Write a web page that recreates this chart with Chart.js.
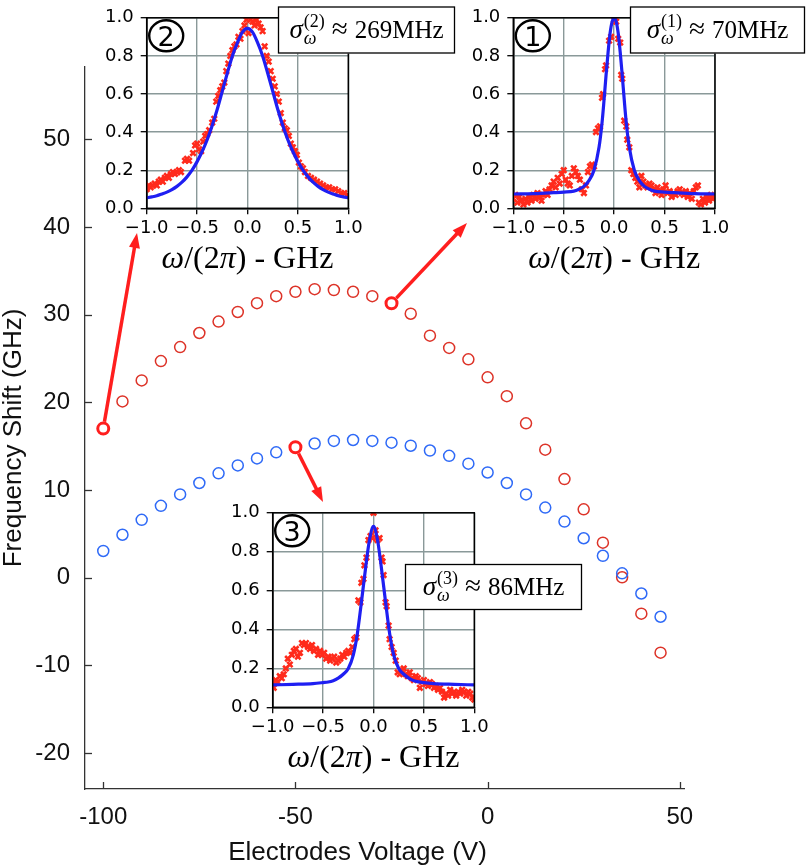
<!DOCTYPE html>
<html><head><meta charset="utf-8">
<script src="https://cdn.jsdelivr.net/npm/chart.js@4.4.0/dist/chart.umd.min.js"></script>
<style>
html,body{margin:0;padding:0;background:#fff;}
#wrap{position:relative;width:808px;height:866px;overflow:hidden;background:#fff;}
canvas{position:absolute;}
</style></head>
<body><div id="wrap">
<canvas id="main" width="808" height="866" style="left:0;top:0;width:808px;height:866px"></canvas>
<canvas id="in2"></canvas>
<canvas id="in1"></canvas>
<canvas id="in3"></canvas>
</div>
<script>
// ---------------- main data ----------------
const voltage = [-100,-95,-90,-85,-80,-75,-70,-65,-60,-55,-50,-45,-40,-35,-30,-25,-20,-15,-10,-5,0,5,10,15,20,25,30,35,40,45];
const redShift = [17.0,20.1,22.5,24.7,26.3,27.9,29.2,30.3,31.3,32.1,32.6,32.9,32.8,32.6,32.1,31.3,30.1,27.6,26.2,24.9,22.85,20.7,17.6,14.6,11.25,7.8,4.0,0.05,-4.1,-8.55];
const blueShift = [3.05,4.9,6.6,8.2,9.5,10.8,11.9,12.8,13.6,14.3,14.87,15.3,15.6,15.7,15.6,15.4,15.05,14.5,13.9,13.0,12.0,10.8,9.5,8.0,6.4,4.5,2.5,0.5,-1.8,-4.45];
const xTicks = [-100,-50,0,50];
const yTicks = [-20,-10,0,10,20,30,40,50];
// highlighted measurements (series, index)
const highlightIdx = [['red',0],['red',15],['blue',10]];

// ---------------- inset data ----------------
const insetXTicks = [-1,-0.5,0,0.5,1];
const insetYTicks = [0,0.2,0.4,0.6,0.8,1.0];

// inset (2): sigma ~ 269 MHz
const in2X = [-1.00,-0.98,-0.96,-0.94,-0.92,-0.90,-0.88,-0.86,-0.84,-0.82,-0.80,-0.78,-0.76,-0.74,-0.72,-0.70,-0.68,-0.66,-0.62,-0.60,-0.58,-0.54,-0.52,-0.50,-0.48,-0.46,-0.44,-0.42,-0.40,-0.38,-0.35,-0.33,-0.31,-0.29,-0.27,-0.25,-0.23,-0.21,-0.19,-0.17,-0.15,-0.13,-0.11,-0.09,-0.07,-0.05,-0.03,-0.01,0.01,0.03,0.05,0.07,0.09,0.11,0.13,0.15,0.17,0.19,0.21,0.23,0.25,0.27,0.29,0.31,0.33,0.35,0.37,0.39,0.41,0.43,0.45,0.47,0.49,0.51,0.53,0.55,0.57,0.60,0.63,0.66,0.69,0.72,0.75,0.78,0.81,0.84,0.87,0.90,0.93,0.96,0.99];
const in2Y = [0.10,0.12,0.11,0.12,0.13,0.12,0.14,0.15,0.14,0.16,0.17,0.16,0.18,0.19,0.18,0.19,0.20,0.19,0.25,0.26,0.25,0.29,0.33,0.34,0.31,0.30,0.35,0.38,0.39,0.41,0.45,0.47,0.56,0.59,0.62,0.64,0.66,0.72,0.76,0.80,0.83,0.85,0.86,0.90,0.89,0.93,0.96,0.99,0.92,0.99,0.98,0.96,0.99,0.97,0.95,0.93,0.85,0.80,0.77,0.72,0.68,0.64,0.60,0.56,0.50,0.45,0.42,0.41,0.38,0.34,0.32,0.30,0.28,0.24,0.22,0.21,0.19,0.17,0.16,0.15,0.14,0.13,0.12,0.11,0.11,0.10,0.10,0.09,0.08,0.08,0.07];
const fit2X = [-1.00,-0.95,-0.90,-0.85,-0.80,-0.75,-0.70,-0.65,-0.60,-0.55,-0.50,-0.45,-0.40,-0.35,-0.30,-0.25,-0.20,-0.15,-0.10,-0.05,0,0.05,0.10,0.15,0.20,0.25,0.30,0.35,0.40,0.45,0.50,0.55,0.60,0.65,0.70,0.75,0.80,0.85,0.90,0.95,1.00];
const fit2Y = [0.055,0.060,0.066,0.075,0.085,0.098,0.115,0.137,0.165,0.200,0.245,0.298,0.360,0.435,0.520,0.615,0.710,0.800,0.870,0.925,0.945,0.925,0.870,0.800,0.710,0.615,0.520,0.435,0.360,0.298,0.245,0.200,0.165,0.137,0.115,0.098,0.085,0.075,0.066,0.060,0.055];

// inset (1): sigma ~ 70 MHz
const in1X = [-1.00,-0.98,-0.96,-0.94,-0.92,-0.90,-0.88,-0.86,-0.84,-0.82,-0.80,-0.78,-0.76,-0.74,-0.72,-0.70,-0.68,-0.66,-0.64,-0.62,-0.60,-0.58,-0.56,-0.54,-0.52,-0.50,-0.48,-0.46,-0.44,-0.42,-0.40,-0.38,-0.36,-0.34,-0.32,-0.30,-0.28,-0.26,-0.24,-0.22,-0.20,-0.18,-0.16,-0.14,-0.12,-0.11,-0.09,-0.08,-0.05,-0.03,0.00,0.02,0.04,0.06,0.07,0.08,0.10,0.12,0.13,0.15,0.17,0.19,0.21,0.23,0.25,0.27,0.29,0.31,0.33,0.35,0.37,0.39,0.41,0.43,0.45,0.47,0.49,0.51,0.53,0.55,0.57,0.59,0.61,0.63,0.65,0.67,0.69,0.71,0.73,0.75,0.77,0.79,0.81,0.83,0.84,0.86,0.88,0.90,0.92,0.94,0.96,0.98,1.00];
const in1Y = [0.05,0.07,0.03,0.06,0.04,0.02,0.05,0.03,0.06,0.04,0.07,0.05,0.08,0.06,0.04,0.07,0.09,0.07,0.10,0.12,0.14,0.11,0.16,0.13,0.18,0.20,0.15,0.13,0.12,0.17,0.21,0.19,0.17,0.15,0.10,0.08,0.12,0.19,0.22,0.23,0.22,0.40,0.42,0.43,0.58,0.60,0.73,0.75,0.88,0.90,0.99,0.98,0.89,0.87,0.70,0.68,0.46,0.43,0.36,0.32,0.20,0.18,0.16,0.14,0.11,0.17,0.14,0.12,0.11,0.13,0.12,0.10,0.08,0.11,0.09,0.07,0.10,0.12,0.08,0.09,0.06,0.08,0.07,0.09,0.10,0.08,0.07,0.09,0.06,0.08,0.05,0.09,0.11,0.12,0.03,0.02,0.05,0.03,0.06,0.04,0.07,0.05,0.06];
const fit1X = [-1.00,-0.80,-0.60,-0.50,-0.40,-0.35,-0.30,-0.25,-0.20,-0.15,-0.12,-0.10,-0.08,-0.06,-0.04,-0.02,0,0.02,0.04,0.06,0.08,0.10,0.12,0.15,0.20,0.25,0.30,0.35,0.40,0.50,0.60,0.80,1.00];
const fit1Y = [0.075,0.077,0.082,0.085,0.090,0.100,0.115,0.145,0.200,0.320,0.450,0.570,0.700,0.820,0.920,0.980,1.000,0.980,0.920,0.820,0.700,0.570,0.450,0.320,0.200,0.145,0.115,0.100,0.090,0.085,0.082,0.077,0.075];

// inset (3): sigma ~ 86 MHz
const in3X = [-1.00,-0.99,-0.97,-0.95,-0.93,-0.91,-0.89,-0.87,-0.85,-0.83,-0.81,-0.79,-0.77,-0.75,-0.73,-0.71,-0.69,-0.67,-0.65,-0.63,-0.61,-0.59,-0.57,-0.55,-0.53,-0.51,-0.49,-0.47,-0.45,-0.43,-0.41,-0.39,-0.37,-0.35,-0.33,-0.31,-0.29,-0.27,-0.25,-0.23,-0.21,-0.19,-0.17,-0.15,-0.13,-0.12,-0.10,-0.09,-0.07,-0.05,-0.03,-0.01,0.00,0.02,0.04,0.06,0.08,0.09,0.10,0.12,0.13,0.15,0.16,0.18,0.20,0.22,0.24,0.26,0.28,0.30,0.32,0.34,0.36,0.38,0.40,0.42,0.44,0.46,0.48,0.50,0.52,0.54,0.56,0.58,0.60,0.62,0.64,0.66,0.68,0.70,0.72,0.74,0.76,0.78,0.80,0.82,0.84,0.86,0.88,0.90,0.92,0.94,0.96,0.98,1.00];
const in3Y = [0.12,0.10,0.14,0.13,0.16,0.15,0.17,0.20,0.25,0.22,0.27,0.29,0.30,0.26,0.28,0.33,0.32,0.33,0.31,0.30,0.32,0.29,0.30,0.27,0.29,0.27,0.28,0.25,0.26,0.24,0.25,0.26,0.23,0.24,0.25,0.27,0.26,0.28,0.29,0.28,0.31,0.35,0.36,0.55,0.54,0.64,0.66,0.73,0.77,0.86,0.88,0.87,1.00,0.91,0.86,0.87,0.77,0.75,0.68,0.54,0.52,0.42,0.35,0.31,0.28,0.24,0.18,0.17,0.19,0.20,0.17,0.16,0.18,0.15,0.14,0.16,0.15,0.10,0.13,0.14,0.12,0.11,0.13,0.12,0.10,0.11,0.09,0.10,0.08,0.05,0.07,0.06,0.09,0.07,0.08,0.06,0.08,0.07,0.09,0.08,0.06,0.08,0.07,0.05,0.04];
const fit3X = [-1.00,-0.80,-0.60,-0.50,-0.45,-0.40,-0.35,-0.30,-0.25,-0.20,-0.16,-0.12,-0.08,-0.04,0,0.04,0.08,0.12,0.16,0.20,0.25,0.30,0.35,0.40,0.50,0.60,0.80,1.00];
const fit3Y = [0.115,0.118,0.122,0.127,0.130,0.137,0.150,0.170,0.200,0.270,0.380,0.540,0.710,0.860,0.930,0.860,0.710,0.540,0.380,0.270,0.200,0.170,0.150,0.137,0.127,0.122,0.118,0.115];

// ---------------- styling ----------------
const RED = '#dd3328', BLUE = '#2f6af7', HL = '#ff1e1e';
const arrowTips = [[137,233],[467,223],[323,502]];

const highlightPoints = highlightIdx.map(([s,i]) => ({x: voltage[i], y: (s==='red'?redShift:blueShift)[i]}));

const mainPlugin = {
  id:'mainDeco',
  afterDatasetsDraw(chart){
    const {ctx, scales:{x,y}} = chart;
    ctx.save();
    ctx.strokeStyle = HL; ctx.fillStyle = HL; ctx.lineWidth = 3.5; ctx.lineCap='butt';
    highlightPoints.forEach((p,k)=>{
      const sx = x.getPixelForValue(p.x), sy = y.getPixelForValue(p.y);
      const [tx,ty] = arrowTips[k];
      const dx = tx-sx, dy = ty-sy, L = Math.hypot(dx,dy), ux = dx/L, uy = dy/L;
      const head = 15, hw = 5.5;
      const ax = sx+ux*7, ay = sy+uy*7;
      const bx = tx-ux*head, by = ty-uy*head;
      ctx.beginPath(); ctx.moveTo(ax,ay); ctx.lineTo(bx+ux*2,by+uy*2); ctx.stroke();
      ctx.beginPath(); ctx.moveTo(tx,ty); ctx.lineTo(bx-uy*hw, by+ux*hw); ctx.lineTo(bx+uy*hw, by-ux*hw); ctx.closePath(); ctx.fill();
    });
    ctx.restore();
  },
  afterDraw(chart){
    const {ctx, chartArea:a, scales:{x,y}} = chart;
    ctx.save();
    ctx.strokeStyle='#333'; ctx.lineWidth=1.3;
    xTicks.forEach(v=>{const p=Math.round(x.getPixelForValue(v))+0.5; ctx.beginPath(); ctx.moveTo(p,a.bottom); ctx.lineTo(p,a.bottom-7); ctx.stroke();});
    yTicks.forEach(v=>{const p=Math.round(y.getPixelForValue(v))+0.5; ctx.beginPath(); ctx.moveTo(a.left,p); ctx.lineTo(a.left+7,p); ctx.stroke();});
    ctx.fillStyle='#111'; ctx.font='26px "Liberation Sans", Arial, sans-serif';
    ctx.textAlign='center'; ctx.textBaseline='alphabetic';
    ctx.fillText('Electrodes Voltage (V)', 357.5, 860);
    ctx.translate(21, 438); ctx.rotate(-Math.PI/2);
    ctx.fillText('Frequency Shift (GHz)', 0, 0);
    ctx.restore();
  }
};

new Chart(document.getElementById('main'), {
  type:'scatter',
  data:{datasets:[
    {label:'highlight', data: highlightPoints, pointRadius:5.5, pointBorderWidth:3, pointBorderColor:HL, pointBackgroundColor:'#fff', borderColor:HL, backgroundColor:'#fff', order:0},
    {label:'blue mode', data: voltage.map((v,i)=>({x:v,y:blueShift[i]})), pointRadius:5.5, pointBorderWidth:1.5, pointBorderColor:BLUE, pointBackgroundColor:'rgba(0,0,0,0)', borderColor:BLUE, order:1},
    {label:'red mode', data: voltage.map((v,i)=>({x:v,y:redShift[i]})), pointRadius:5.5, pointBorderWidth:1.5, pointBorderColor:RED, pointBackgroundColor:'rgba(0,0,0,0)', borderColor:RED, order:2}
  ]},
  options:{
    responsive:false, animation:false, devicePixelRatio:1,
    layout:{padding:{left:0, top:67, right:808-684, bottom:0}},
    plugins:{legend:{display:false}, tooltip:{enabled:false}},
    scales:{
      x:{type:'linear', min:-104.75, max:51.1,
        afterFit(s){ s.height = 866-789; },
        afterBuildTicks(s){ s.ticks = xTicks.map(v=>({value:v})); },
        grid:{display:false, drawTicks:false}, border:{display:true, color:'#333', width:1.3},
        ticks:{font:{family:'"Liberation Sans", Arial, sans-serif', size:24}, color:'#111', padding:14, maxRotation:0, autoSkip:false}},
      y:{type:'linear', min:-24.09, max:58.23,
        afterFit(s){ s.width = 85; },
        afterBuildTicks(s){ s.ticks = yTicks.map(v=>({value:v})); },
        grid:{display:false, drawTicks:false}, border:{display:true, color:'#333', width:1.3},
        ticks:{font:{family:'"Liberation Sans", Arial, sans-serif', size:24}, color:'#111', padding:15, autoSkip:false}}
    }
  },
  plugins:[mainPlugin]
});

// ---------------- insets ----------------
function fmt(v){ const s = Math.abs(v).toFixed(1); return (v < -1e-9 ? '\u2212' : '') + s; }

function makeInset(id, g, crossX, crossY, fitX, fitY, num, sup, rest) {
  const cv = document.getElementById(id);
  cv.width = g.cw; cv.height = g.ch;
  cv.style.left = g.cl+'px'; cv.style.top = g.ct+'px';
  cv.style.width = g.cw+'px'; cv.style.height = g.ch+'px';
  const plotR = g.pl + g.pw, plotB = g.pt + g.ph;
  const deco = {
    id:'insetDeco',
    beforeDraw(chart){
      const {ctx, chartArea:a} = chart;
      ctx.save(); ctx.fillStyle='#fff'; ctx.fillRect(a.left,a.top,a.right-a.left,a.bottom-a.top); ctx.restore();
    },
    afterDraw(chart){
      const {ctx, chartArea:a} = chart;
      ctx.save();
      ctx.strokeStyle='#000'; ctx.lineWidth=1.5;
      ctx.strokeRect(a.left, a.top, a.right-a.left, a.bottom-a.top);
      // circled number
      const cx = a.left+19.5, cy = a.top+18;
      ctx.lineWidth = 2.4;
      ctx.beginPath(); ctx.ellipse(cx, cy, 17, 15.5, 0, 0, Math.PI*2); ctx.stroke();
      ctx.fillStyle='#000'; ctx.font='27px "DejaVu Sans", sans-serif'; ctx.textAlign='center'; ctx.textBaseline='alphabetic';
      ctx.fillText(num, cx, cy+10);
      // x-axis title: ω/(2π) - GHz
      const segs = [['\u03C9','italic '],['/(2',''],['\u03C0','italic '],[') - GHz','']];
      const fs = '32px "Liberation Serif", "DejaVu Serif", serif';
      let tw = 0;
      segs.forEach(([t,st])=>{ ctx.font = st+fs; tw += ctx.measureText(t).width; });
      let xx = (a.left+a.right)/2 - tw/2; const by = a.bottom + 60;
      ctx.textAlign='left';
      segs.forEach(([t,st])=>{ ctx.font = st+fs; ctx.fillText(t, xx, by); xx += ctx.measureText(t).width; });
      // sigma box
      const bx = g.bx - g.cl, byy = g.by - g.ct;
      ctx.fillStyle='#fff'; ctx.fillRect(bx, byy, g.bw, g.bh);
      ctx.strokeStyle='#000'; ctx.lineWidth=1.3; ctx.strokeRect(bx+0.5, byy+0.5, g.bw-1, g.bh-1);
      ctx.fillStyle='#000';
      const f1 = 'italic 27px "Liberation Serif", serif', fsmall = '18px "Liberation Serif", serif', fsub = 'italic 18px "Liberation Serif", serif', fmain='25px "Liberation Serif", serif', fapprox='29px "Liberation Serif", serif';
      ctx.font=f1; const wS = ctx.measureText('\u03C3').width;
      ctx.font=fsmall; const wSup = ctx.measureText(sup).width;
      ctx.font=fapprox; const wA = ctx.measureText('\u2248').width;
      ctx.font=fmain; const wR = ctx.measureText(rest).width;
      const gap = 7;
      const total = wS + 1 + wSup + gap + wA + gap + wR;
      let px = bx + g.bw/2 - total/2; const base = byy + g.bh/2 + 8;
      ctx.font=f1; ctx.fillText('\u03C3', px, base); px += wS + 1;
      ctx.font=fsmall; ctx.fillText(sup, px, base-11);
      ctx.font=fsub; ctx.fillText('\u03C9', px, base+6); px += wSup + gap;
      ctx.font=fapprox; ctx.fillText('\u2248', px, base); px += wA + gap;
      ctx.font=fmain; ctx.fillText(rest, px, base);
      ctx.restore();
    }
  };
  return new Chart(cv, {
    type:'scatter',
    data:{datasets:[
      {label:'fit', data: fitX.map((x,i)=>({x, y:fitY[i]})), showLine:true, borderColor:'#1f1ff2', borderWidth:3.2, pointRadius:0, cubicInterpolationMode:'monotone', order:0},
      {label:'data', data: crossX.map((x,i)=>({x, y:crossY[i]})), showLine:false, pointStyle:'crossRot', pointRadius:3.8, pointBorderWidth:2.6, pointBorderColor:'#ff2b1c', borderColor:'#ff2b1c', order:1}
    ]},
    options:{
      responsive:false, animation:false, devicePixelRatio:1,
      layout:{padding:{left:0, top:g.pt-g.ct, right:g.cl+g.cw-plotR, bottom:0}},
      plugins:{legend:{display:false}, tooltip:{enabled:false}},
      scales:{
        x:{type:'linear', min:-1, max:1,
          afterFit(s){ s.height = g.ct+g.ch-plotB; },
          afterBuildTicks(s){ s.ticks = insetXTicks.map(v=>({value:v})); },
          ticks:{callback:v=>fmt(v), font:{family:'"DejaVu Sans", sans-serif', size:18}, color:'#000', padding:3, maxRotation:0, autoSkip:false},
          grid:{color:'#8a9999', lineWidth:1.4, tickColor:'#000', tickLength:6, tickWidth:1.3},
          border:{display:true, color:'#000', width:1.5}},
        y:{type:'linear', min:0, max:1,
          afterFit(s){ s.width = g.pl-g.cl; },
          afterBuildTicks(s){ s.ticks = insetYTicks.map(v=>({value:v})); },
          ticks:{callback:v=>fmt(v), font:{family:'"DejaVu Sans", sans-serif', size:18}, color:'#000', padding:7, autoSkip:false},
          grid:{color:'#8a9999', lineWidth:1.4, tickColor:'#000', tickLength:6, tickWidth:1.3},
          border:{display:true, color:'#000', width:1.5}}
      }
    },
    plugins:[deco]
  });
}

makeInset('in2', {cl:100, ct:0, cw:360, ch:285, pl:146.7, pt:6.7, pw:201.6, ph:201.6, bx:278, by:6.5, bw:177, bh:47}, in2X, in2Y, fit2X, fit2Y, '2', '(2)', '269MHz');
makeInset('in1', {cl:465, ct:0, cw:343, ch:285, pl:513.3, pt:6.7, pw:201.7, ph:201.6, bx:630, by:6.5, bw:175, bh:47}, in1X, in1Y, fit1X, fit1Y, '1', '(1)', '70MHz');
makeInset('in3', {cl:225, ct:495, cw:365, ch:285, pl:272.7, pt:506, pw:201.6, ph:201.3, bx:405, by:564, bw:177, bh:46}, in3X, in3Y, fit3X, fit3Y, '3', '(3)', '86MHz');
</script>
</body></html>
